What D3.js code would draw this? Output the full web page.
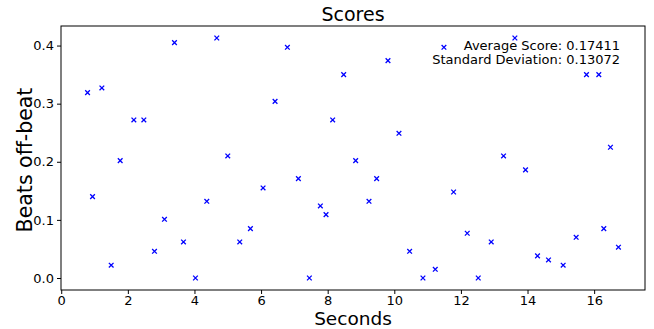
<!DOCTYPE html>
<html>
<head>
<meta charset="utf-8">
<script src="https://cdn.jsdelivr.net/npm/d3@7"></script>
<style>
  body { margin: 0; background: #fff; }
  text { font-family: "DejaVu Sans", sans-serif; fill: #000; }
  .axis text { font-size: 13px; }
  .axis path, .axis line { stroke: #000; stroke-width: 1; }
</style>
</head>
<body>
<svg id="chart" width="654" height="329"></svg>
<script>
// time of each sample (seconds)
var seconds = [0.79, 0.94, 1.22, 1.50, 1.77, 2.18, 2.48, 2.80, 3.10, 3.40,
  3.67, 4.03, 4.37, 4.67, 5.00, 5.36, 5.68, 6.06, 6.42, 6.79,
  7.12, 7.45, 7.78, 7.95, 8.15, 8.48, 8.84, 9.24, 9.47, 9.81,
  10.14, 10.46, 10.86, 11.23, 11.49, 11.78, 12.19, 12.52, 12.91, 13.28,
  13.62, 13.94, 14.30, 14.63, 15.07, 15.46, 15.77, 16.14, 16.29, 16.49,
  16.73];
// beats off-beat score
var scores = [0.319, 0.140, 0.327, 0.022, 0.202, 0.272, 0.272, 0.046, 0.101, 0.405,
  0.062, 0.000, 0.132, 0.413, 0.210, 0.062, 0.085, 0.155, 0.304, 0.397,
  0.171, 0.000, 0.124, 0.109, 0.272, 0.350, 0.202, 0.132, 0.171, 0.374,
  0.249, 0.046, 0.000, 0.015, 0.397, 0.148, 0.077, 0.000, 0.062, 0.210,
  0.413, 0.186, 0.038, 0.031, 0.022, 0.070, 0.350, 0.350, 0.085, 0.225,
  0.053];
var xTicks = [0, 2, 4, 6, 8, 10, 12, 14, 16];
var yTicks = [0.0, 0.1, 0.2, 0.3, 0.4];
var statLines = ["Average Score: 0.17411", "Standard Deviation: 0.13072"];

var svg = d3.select("#chart");
var margin = {top: 26, right: 9, bottom: 39, left: 61},
    width = 654 - margin.left - margin.right,
    height = 329 - margin.top - margin.bottom;

var g = svg.append("g")
    .attr("transform", "translate(" + margin.left + "," + margin.top + ")");

// matplotlib style 5% padding round the data
function padded(values) {
  var ext = d3.extent(values), pad = (ext[1] - ext[0]) * 0.05;
  return [ext[0] - pad, ext[1] + pad];
}

var x = d3.scaleLinear().domain(padded(seconds)).range([0, width]);
var y = d3.scaleLinear().domain(padded(scores)).range([height, 0]);

var points = seconds.map(function(s, i) { return {s: s, v: scores[i]}; });

var cross = d3.symbol().type(d3.symbolX).size(16);

g.selectAll(".pt")
    .data(points)
  .enter().append("path")
    .attr("class", "pt")
    .attr("transform", function(d) { return "translate(" + x(d.s) + "," + y(d.v) + ")"; })
    .attr("d", cross)
    .attr("fill", "none")
    .attr("stroke", "#0000ff")
    .attr("stroke-width", 1.3);

// axes
g.append("g")
    .attr("class", "axis")
    .attr("transform", "translate(0," + height + ")")
    .call(d3.axisBottom(x).tickValues(xTicks).tickSize(4).tickPadding(1.5).tickSizeOuter(0))
    .select(".domain").remove();

g.append("g")
    .attr("class", "axis")
    .call(d3.axisLeft(y).tickValues(yTicks).tickFormat(d3.format(".1f")).tickSize(4).tickPadding(3).tickSizeOuter(0))
    .select(".domain").remove();

// frame
g.append("rect")
    .attr("width", width)
    .attr("height", height)
    .attr("fill", "none")
    .attr("stroke", "#000")
    .attr("stroke-width", 1);

// title
svg.append("text")
    .attr("x", margin.left + width / 2)
    .attr("y", 21)
    .style("text-anchor", "middle")
    .style("font-size", "19px")
    .text("Scores");

// x label
svg.append("text")
    .attr("x", margin.left + width / 2)
    .attr("y", 324.5)
    .style("text-anchor", "middle")
    .style("font-size", "18.5px")
    .text("Seconds");

// y label
svg.append("text")
    .attr("transform", "translate(32," + (margin.top + height / 2 + 2) + ") rotate(-90)")
    .style("text-anchor", "middle")
    .style("font-size", "20.5px")
    .text("Beats off-beat");

// stats box text
svg.selectAll(".stat")
    .data(statLines)
  .enter().append("text")
    .attr("class", "stat")
    .attr("x", 620)
    .attr("y", function(d, i) { return 49.5 + i * 14; })
    .style("text-anchor", "end")
    .style("font-size", "13px")
    .text(function(d) { return d; });
</script>
</body>
</html>
